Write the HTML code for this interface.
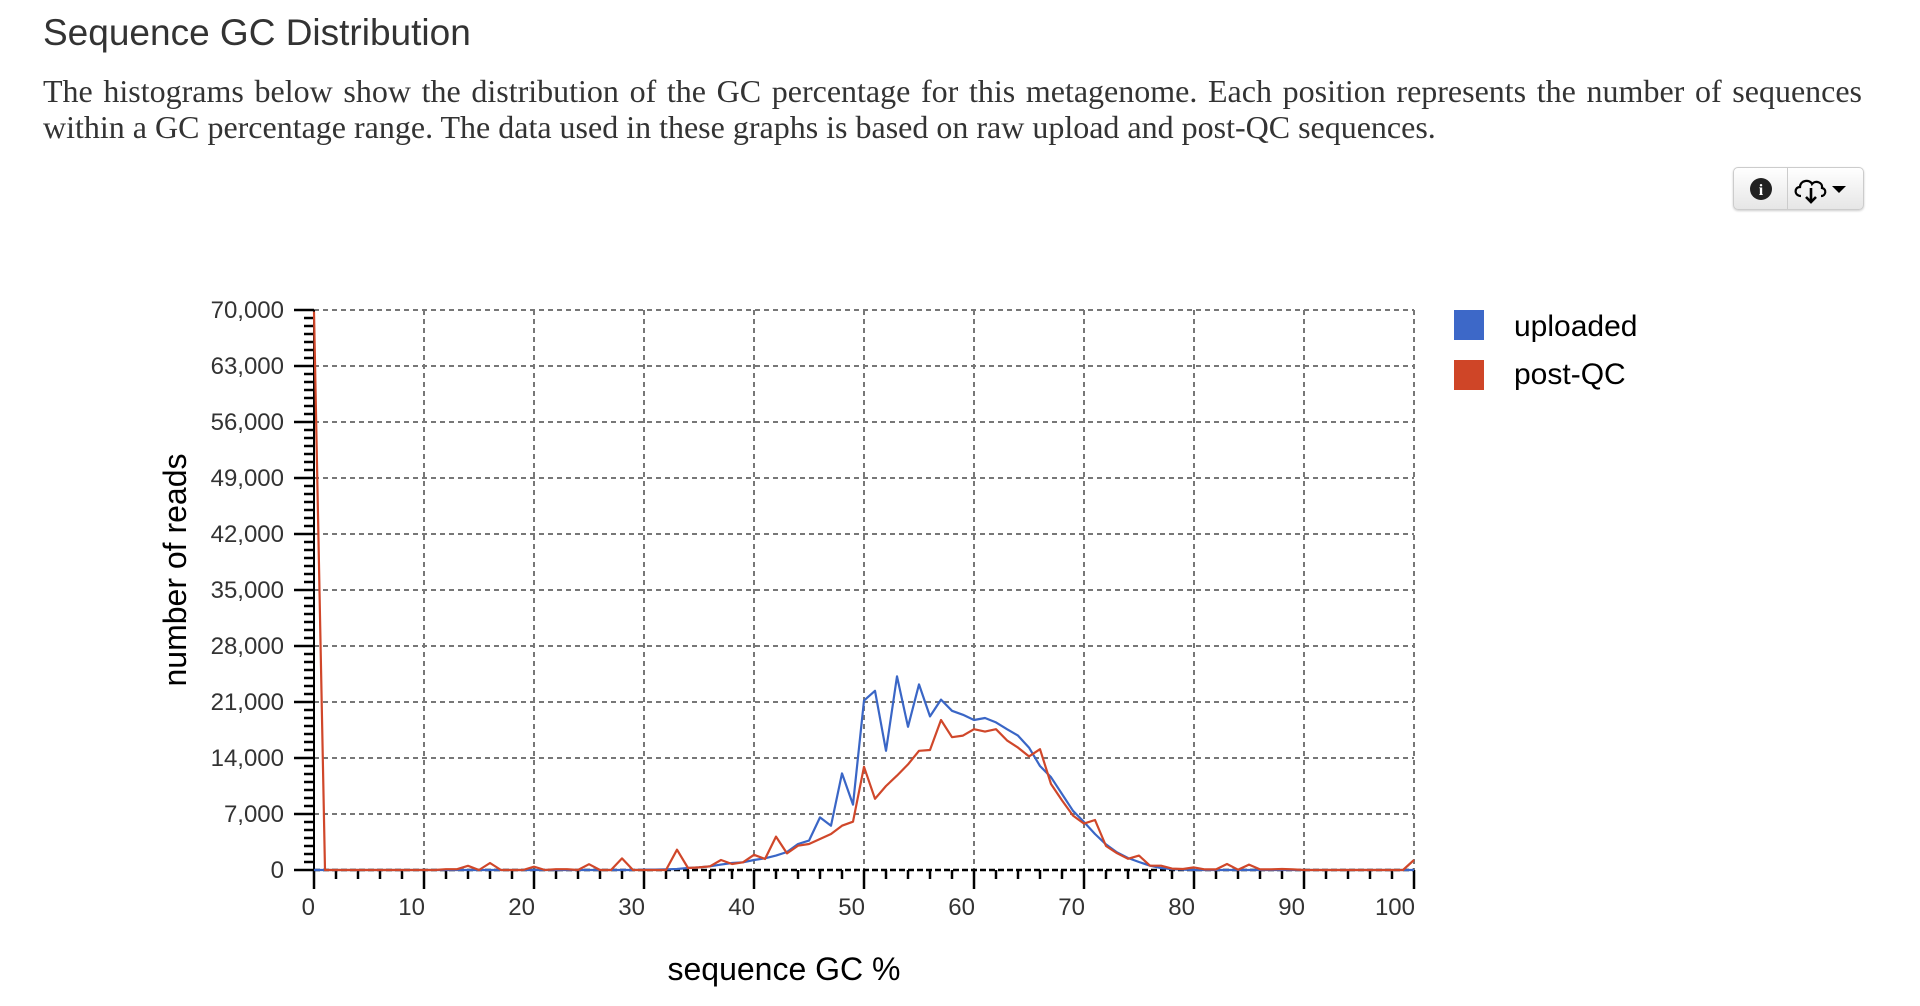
<!DOCTYPE html>
<html><head><meta charset="utf-8"><title>Sequence GC Distribution</title>
<style>
html,body{margin:0;padding:0;background:#fff;width:1920px;height:1006px;overflow:hidden}
#title{position:absolute;left:43px;top:12px;font:37px "Liberation Sans",sans-serif;color:#333;margin:0;font-weight:normal}
.para{position:absolute;left:43px;width:1819px;font:32px "Liberation Serif",serif;color:#333;white-space:nowrap}
#l1{top:73px;text-align:justify;text-align-last:justify;white-space:normal}
#l2{top:109px}
#btns{position:absolute;left:1733px;top:167px;width:129px;height:41px;border:1px solid #ccc;border-radius:5px;background:linear-gradient(#fff,#e6e6e6);box-shadow:0 1px 2px rgba(0,0,0,.2);display:flex}
#btns div{height:100%;display:flex;align-items:center;justify-content:center}
svg{position:absolute;left:0;top:0}
</style></head><body>
<h2 id="title">Sequence GC Distribution</h2>
<div class="para" id="l1">The histograms below show the distribution of the GC percentage for this metagenome. Each position represents the number of sequences</div>
<div class="para" id="l2">within a GC percentage range. The data used in these graphs is based on raw upload and post-QC sequences.</div>
<div id="btns">
 <div style="width:53px;border-right:1px solid #ccc">
  <svg width="24" height="24" style="position:static" viewBox="0 0 24 24"><circle cx="12" cy="12" r="11" fill="#222"/><text x="12" y="18" text-anchor="middle" font-family="Liberation Serif" font-weight="bold" font-size="16" fill="#fff">i</text></svg></div>
 <div style="flex:1">
  <svg width="70" height="34" style="position:static" viewBox="0 0 70 34"><path d="M10 24 C3 24 3 15 9 15 C9 8 19 7 21 12 C24 8 32 10 31 16 C36 17 35 24 30 24" fill="none" stroke="#000" stroke-width="2.2"/><path d="M20 16 V29 M15 25 L20 30 L25 25" fill="none" stroke="#000" stroke-width="2.6"/><path d="M41 14 H55 L48 21 Z" fill="#000"/></svg></div>
</div>
<svg id="chart" width="1920" height="1006"></svg>
<script>
const xTicks=[0,10,20,30,40,50,60,70,80,90,100];
const yTicks=[0,7000,14000,21000,28000,35000,42000,49000,56000,63000,70000];
const yTickLabels=["0","7,000","14,000","21,000","28,000","35,000","42,000","49,000","56,000","63,000","70,000"];
const uploaded=[0,0,0,0,0,0,0,0,0,0,
0,0,0,0,0,0,0,0,0,0,
0,0,0,0,0,0,0,0,0,0,
50,50,80,125,250,330,460,670,875,960,
1250,1460,1800,2250,3250,3670,6580,5540,12080,8170,
21170,22400,14900,24200,17900,23200,19200,21300,19900,19400,
18750,19000,18450,17600,16800,15300,13000,11600,9500,7400,
6000,4500,3200,2200,1500,1000,540,250,100,50,
0,0,0,0,0,0,0,0,0,0,
0,0,0,0,0,0,0,0,0,0,0];
const postQC=[69800,0,0,0,0,0,0,0,0,0,
0,0,100,100,520,0,880,0,0,0,
415,0,100,100,0,730,0,0,1450,0,
0,0,0,2540,250,330,460,1250,750,960,
1900,1375,4170,2080,3040,3250,3875,4500,5540,6040,
12900,8900,10500,11800,13200,14900,15000,18750,16600,16800,
17600,17300,17600,16200,15300,14200,15100,10750,8700,6800,
5800,6250,3000,2100,1400,1800,540,540,170,120,
330,80,80,750,40,670,80,80,120,80,
0,0,0,0,0,0,0,0,0,0,1250];
const X0=314,X1=1414,Y0=870,Y1=310;
const xs=v=>X0+(v/100)*(X1-X0);
const ys=v=>Y0-(v/70000)*(Y0-Y1);
const svg=document.getElementById('chart');
const NS='http://www.w3.org/2000/svg';
function mk(t,a){const e=document.createElementNS(NS,t);for(const k in a)e.setAttribute(k,a[k]);svg.appendChild(e);return e;}
yTicks.forEach((t,i)=>{if(t===0)return;const l=mk('line',{x1:X0,x2:X1,y1:ys(t),y2:ys(t),stroke:'#777','stroke-width':2,'stroke-dasharray':'5,4'});

});
xTicks.forEach(t=>{if(t===0)return;const l=mk('line',{x1:xs(t),x2:xs(t),y1:Y1,y2:Y0,stroke:'#777','stroke-width':2,'stroke-dasharray':'5,4'});

});
const ya=mk('line',{x1:X0,x2:X0,y1:Y1,y2:Y0,stroke:'#000','stroke-width':2});


const xa=mk('line',{x1:X0,x2:X1,y1:Y0,y2:Y0,stroke:'#000','stroke-width':2.5,'stroke-dasharray':'6,3'});


for(let v=0;v<=70000;v+=1000){const major=v%7000===0;mk('line',{x1:X0-(major?20:10),x2:X0,y1:ys(v),y2:ys(v),stroke:'#000','stroke-width':2.5});}
for(let v=0;v<=100;v+=2){const major=v%10===0;mk('line',{x1:xs(v),x2:xs(v),y1:Y0,y2:Y0+(major?19:9),stroke:'#000','stroke-width':2.5});}
yTicks.forEach((t,i)=>{const tx=mk('text',{x:284,y:ys(t)+8,'text-anchor':'end','font-family':'Liberation Sans','font-size':24,fill:'#333'});tx.textContent=yTickLabels[i];

});
xTicks.forEach(t=>{const tx=mk('text',{x:xs(t)+1,y:915,'text-anchor':'end','font-family':'Liberation Sans','font-size':24,fill:'#333'});tx.textContent=String(t);

});
const yt=mk('text',{x:0,y:0,transform:'translate(186,570) rotate(-90)','text-anchor':'middle','font-family':'Liberation Sans','font-size':32,fill:'#000'});yt.textContent='number of reads';


const xt=mk('text',{x:784,y:980,'text-anchor':'middle','font-family':'Liberation Sans','font-size':32,fill:'#000'});xt.textContent='sequence GC %';


function line(d,c,n){const p=d.map((v,i)=>(i?'L':'M')+xs(i).toFixed(1)+' '+ys(v).toFixed(1)).join(' ');
const e=mk('path',{d:p,fill:'none',stroke:c,'stroke-width':2.2,'stroke-linejoin':'round'});

}
line(uploaded,'#3a66c6','uploaded-line');
line(postQC,'#d0472a','post-qc-line');
const s1=mk('rect',{x:1454,y:310,width:30,height:30,fill:'#3d68c8'});


const t1=mk('text',{x:1514,y:336,'font-family':'Liberation Sans','font-size':30,fill:'#000'});t1.textContent='uploaded';


const s2=mk('rect',{x:1454,y:360,width:30,height:30,fill:'#cf4527'});


const t2=mk('text',{x:1514,y:384,'font-family':'Liberation Sans','font-size':30,fill:'#000'});t2.textContent='post-QC';


</script>
</body></html>
